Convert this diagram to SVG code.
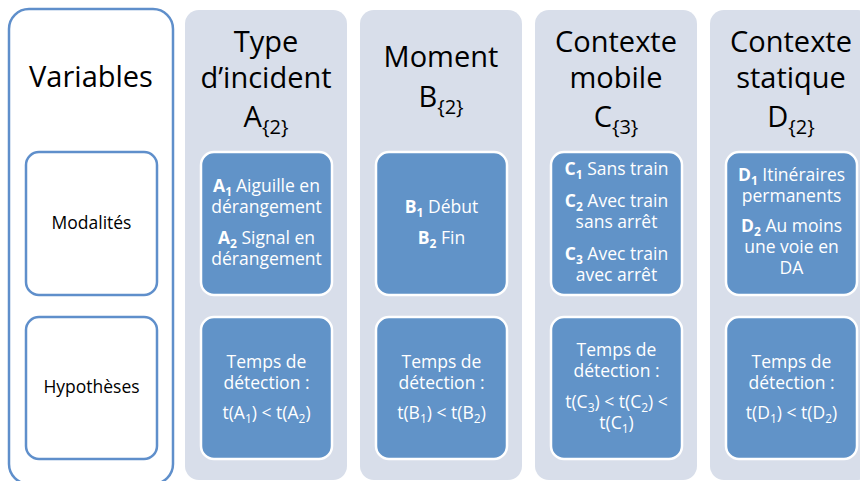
<svg xmlns="http://www.w3.org/2000/svg" width="860" height="481" viewBox="0 0 860 481">
<style>
.outer{fill:#ffffff;stroke:#5F8FCB;stroke-width:2.5}
.lbl{fill:#ffffff;stroke:#5F8FCB;stroke-width:2.5}
.col{fill:#D8DEEA}
.box{fill:#6193C8;stroke:#ffffff;stroke-width:2.5}
text{font-family:"Open Sans","Noto Sans","Liberation Sans",sans-serif;text-anchor:middle}
.title{font-size:29px;fill:#000000}
.tsub{font-size:20px}
.side{font-size:17.5px;fill:#000000}
.in{font-size:17.5px;fill:#ffffff}
.b{font-weight:bold}
.sub{font-size:12px}
</style>
<g id="connectors"/>
<g id="variables">
<rect class="outer" x="9" y="9" width="164" height="475" rx="20"/>
<text class="title" x="91" y="87">Variables</text>
</g>
<g id="modalites">
<rect class="lbl" x="26" y="152" width="131" height="143" rx="13"/>
<text class="side" x="91.5" y="229">Modalités</text>
</g>
<g id="hypotheses">
<rect class="lbl" x="26" y="317" width="131" height="142" rx="13"/>
<text class="side" x="91.5" y="393">Hypothèses</text>
</g>

<g id="colA">
<rect class="col" x="185" y="10" width="162" height="470" rx="14"/>
<text class="title" x="266" y="52">Type</text>
<text class="title" x="266" y="88">d’incident</text>
<text class="title" x="266" y="127">A<tspan class="tsub" dy="7">{2}</tspan></text>
</g>
<g id="colA-mod">
<rect class="box" x="201" y="152" width="131" height="143" rx="13"/>
<text class="in" x="266.5" y="192"><tspan class="b">A<tspan class="sub" dy="4">1</tspan></tspan><tspan dy="-4" dx="4">Aiguille en</tspan></text>
<text class="in" x="266.5" y="213">dérangement</text>
<text class="in" x="266.5" y="244"><tspan class="b">A<tspan class="sub" dy="4">2</tspan></tspan><tspan dy="-4"> Signal en</tspan></text>
<text class="in" x="266.5" y="265">dérangement</text>
</g>
<g id="colA-hyp">
<rect class="box" x="201" y="317" width="131" height="142" rx="13"/>
<text class="in" x="266.5" y="368">Temps de</text>
<text class="in" x="266.5" y="389">détection :</text>
<text class="in" x="266.5" y="419">t(A<tspan class="sub" dy="4">1</tspan><tspan dy="-4">) &lt; t(A</tspan><tspan class="sub" dy="4">2</tspan><tspan dy="-4">)</tspan></text>
</g>

<g id="colB">
<rect class="col" x="360" y="10" width="162" height="470" rx="14"/>
<text class="title" x="441" y="67">Moment</text>
<text class="title" x="441" y="107">B<tspan class="tsub" dy="7">{2}</tspan></text>
</g>
<g id="colB-mod">
<rect class="box" x="376" y="152" width="131" height="143" rx="13"/>
<text class="in" x="441.5" y="213"><tspan class="b">B<tspan class="sub" dy="4">1</tspan></tspan><tspan dy="-4"> Début</tspan></text>
<text class="in" x="441.5" y="244"><tspan class="b">B<tspan class="sub" dy="4">2</tspan></tspan><tspan dy="-4"> Fin</tspan></text>
</g>
<g id="colB-hyp">
<rect class="box" x="376" y="317" width="131" height="142" rx="13"/>
<text class="in" x="441.5" y="368">Temps de</text>
<text class="in" x="441.5" y="389">détection :</text>
<text class="in" x="441.5" y="419">t(B<tspan class="sub" dy="4">1</tspan><tspan dy="-4">) &lt; t(B</tspan><tspan class="sub" dy="4">2</tspan><tspan dy="-4">)</tspan></text>
</g>

<g id="colC">
<rect class="col" x="535" y="10" width="162" height="470" rx="14"/>
<text class="title" x="616" y="52">Contexte</text>
<text class="title" x="616" y="88">mobile</text>
<text class="title" x="616" y="127">C<tspan class="tsub" dy="7">{3}</tspan></text>
</g>
<g id="colC-mod">
<rect class="box" x="551" y="152" width="131" height="143" rx="13"/>
<text class="in" x="616.5" y="175"><tspan class="b">C<tspan class="sub" dy="4">1</tspan></tspan><tspan dy="-4"> Sans train</tspan></text>
<text class="in" x="616.5" y="207"><tspan class="b">C<tspan class="sub" dy="4">2</tspan></tspan><tspan dy="-4"> Avec train</tspan></text>
<text class="in" x="616.5" y="228">sans arrêt</text>
<text class="in" x="616.5" y="260"><tspan class="b">C<tspan class="sub" dy="4">3</tspan></tspan><tspan dy="-4"> Avec train</tspan></text>
<text class="in" x="616.5" y="281">avec arrêt</text>
</g>
<g id="colC-hyp">
<rect class="box" x="551" y="317" width="131" height="142" rx="13"/>
<text class="in" x="616.5" y="356">Temps de</text>
<text class="in" x="616.5" y="377">détection :</text>
<text class="in" x="616.5" y="408">t(C<tspan class="sub" dy="4">3</tspan><tspan dy="-4">) &lt; t(C</tspan><tspan class="sub" dy="4">2</tspan><tspan dy="-4">) &lt;</tspan></text>
<text class="in" x="616.5" y="429">t(C<tspan class="sub" dy="4">1</tspan><tspan dy="-4">)</tspan></text>
</g>

<g id="colD">
<rect class="col" x="710" y="10" width="162" height="470" rx="14"/>
<text class="title" x="791" y="52">Contexte</text>
<text class="title" x="791" y="88">statique</text>
<text class="title" x="791" y="127">D<tspan class="tsub" dy="7">{2}</tspan></text>
</g>
<g id="colD-mod">
<rect class="box" x="726" y="152" width="131" height="143" rx="13"/>
<text class="in" x="791.5" y="181"><tspan class="b">D<tspan class="sub" dy="4">1</tspan></tspan><tspan dy="-4"> Itinéraires</tspan></text>
<text class="in" x="791.5" y="202">permanents</text>
<text class="in" x="791.5" y="232"><tspan class="b">D<tspan class="sub" dy="4">2</tspan></tspan><tspan dy="-4"> Au moins</tspan></text>
<text class="in" x="791.5" y="253">une voie en</text>
<text class="in" x="791.5" y="274">DA</text>
</g>
<g id="colD-hyp">
<rect class="box" x="726" y="317" width="131" height="142" rx="13"/>
<text class="in" x="791.5" y="368">Temps de</text>
<text class="in" x="791.5" y="389">détection :</text>
<text class="in" x="791.5" y="419">t(D<tspan class="sub" dy="4">1</tspan><tspan dy="-4">) &lt; t(D</tspan><tspan class="sub" dy="4">2</tspan><tspan dy="-4">)</tspan></text>
</g>
</svg>
